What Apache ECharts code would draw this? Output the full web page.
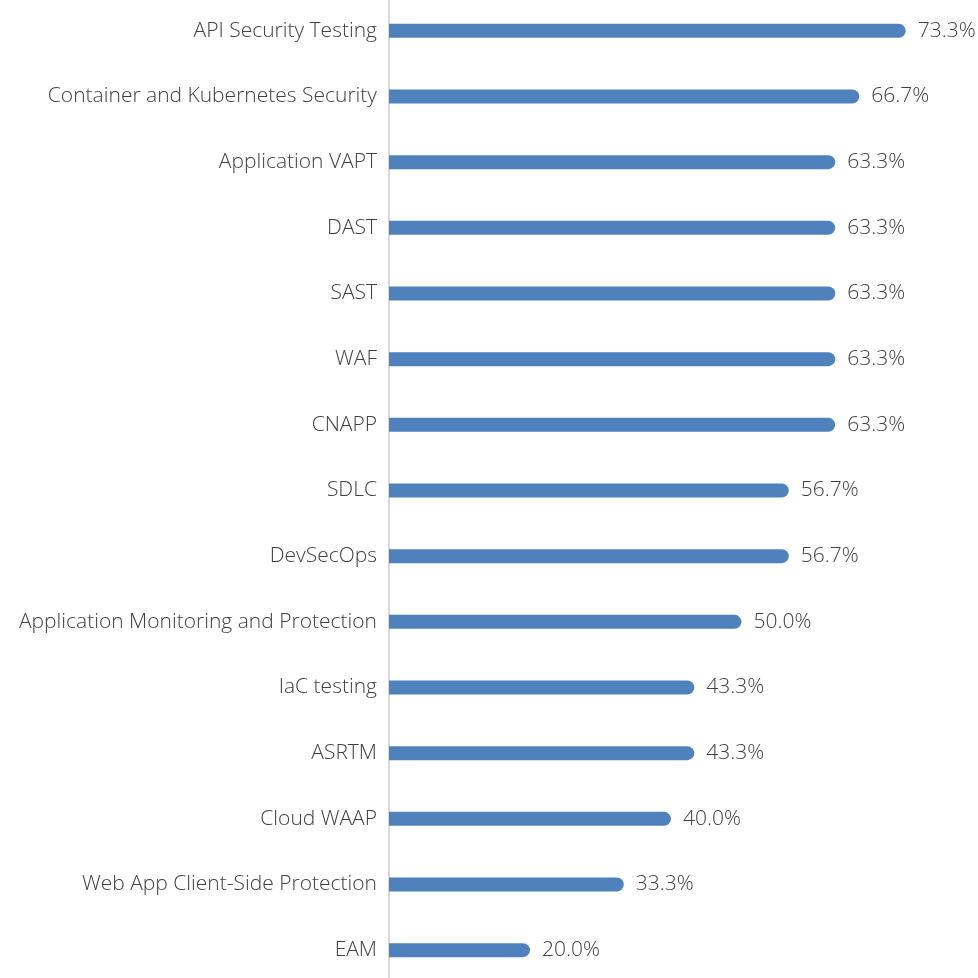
<!DOCTYPE html>
<html>
<head>
<meta charset="utf-8">
<script src="https://cdn.jsdelivr.net/npm/echarts@6/dist/echarts.min.js"></script>
<style>
  html, body { margin: 0; padding: 0; background: #fff; overflow: hidden; }
  #chart { position: absolute; left: 0; top: -2px; width: 978px; height: 985px; }
</style>
</head>
<body>
<div id="chart"></div>
<script>
// top to bottom as in the picture
const categories = [
  'API Security Testing',
  'Container and Kubernetes Security',
  'Application VAPT',
  'DAST',
  'SAST',
  'WAF',
  'CNAPP',
  'SDLC',
  'DevSecOps',
  'Application Monitoring and Protection',
  'IaC testing',
  'ASRTM',
  'Cloud WAAP',
  'Web App Client-Side Protection',
  'EAM'
]
const values = [73.3, 66.7, 63.3, 63.3, 63.3, 63.3, 63.3, 56.7, 56.7, 50.0, 43.3, 43.3, 40.0, 33.3, 20.0]

const font = '"Open Sans", "Noto Sans", sans-serif'
const chart = echarts.init(document.getElementById('chart'))

chart.setOption({
  animation: false,
  grid: { left: 389, right: 25, top: 0, bottom: 0 },
  xAxis: {
    type: 'value', min: 0, max: 80,
    show: false
  },
  yAxis: {
    type: 'category',
    inverse: true,
    data: categories,
    axisLine: { show: true, lineStyle: { color: '#d9d9d9', width: 2 } },
    axisTick: { show: false },
    axisLabel: {
      margin: 12,
      fontFamily: font,
      fontWeight: 300,
      fontSize: 21,
      color: '#404040'
    }
  },
  series: [{
    type: 'bar',
    data: values,
    barWidth: 14,
    itemStyle: { color: '#4f81bd', borderRadius: [0, 7, 7, 0] },
    label: {
      show: true,
      position: 'right',
      distance: 12,
      fontFamily: font,
      fontWeight: 300,
      fontSize: 21,
      color: '#404040',
      formatter: p => p.value.toFixed(1) + '%'
    }
  }]
})
</script>
</body>
</html>
